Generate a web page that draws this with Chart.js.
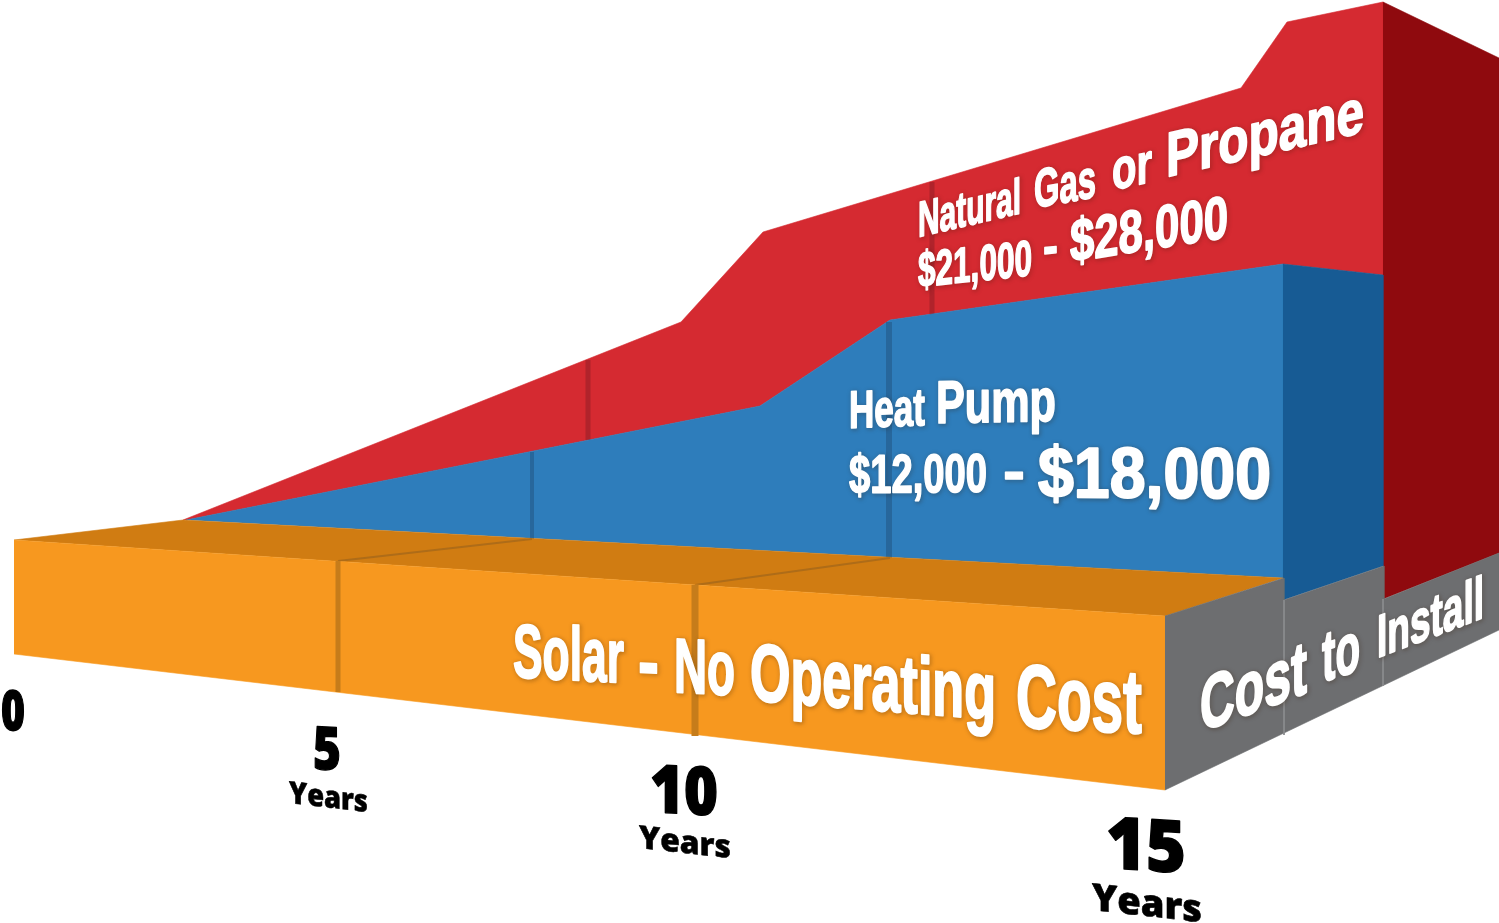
<!DOCTYPE html>
<html>
<head>
<meta charset="utf-8">
<style>html,body{margin:0;padding:0;background:#fff}canvas{display:block}</style>
<script src="https://cdn.jsdelivr.net/npm/chart.js@4"></script>
</head>
<body>
<canvas id="c" width="1499" height="923" style="width:1499px;height:923px"></canvas>
<script>
// Outlines (projected chart plane)
const gasFrontX   = [183, 681, 763, 1241, 1287, 1383, 1383, 1283, 890, 760, 186];
const gasFrontY   = [520, 322, 232, 88, 22, 2, 275, 264, 320, 406, 520];
const gasSideX    = [1383, 1499, 1499, 1383];
const gasSideY    = [2, 58, 553, 599];
const pumpFrontX  = [186, 760, 890, 1283, 1283];
const pumpFrontY  = [520, 406, 320, 264, 578];
const pumpSideX   = [1283, 1383, 1383, 1283];
const pumpSideY   = [264, 275, 566, 600];
const solarTopX   = [14, 183, 1283, 1165];
const solarTopY   = [540, 520, 578, 616];
const solarFrontX = [14, 1165, 1165, 14];
const solarFrontY = [540, 616, 790, 654];
const installX    = [1165, 1284, 1284, 1384, 1384, 1499, 1499, 1165];
const installY    = [616, 578, 600, 566, 599, 553, 630, 790];
// Year gridlines on each face
const gasGridX    = [[588, 588], [932, 932]];
const gasGridY    = [[360, 440], [182, 315]];
const pumpGridX   = [[532, 532], [889, 889]];
const pumpGridY   = [[452, 539], [322, 558]];
const solarGridX  = [[338, 338], [695, 695]];
const solarGridY  = [[561, 692], [585, 736]];
const topGridX    = [[338, 532], [695, 890]];
const topGridY    = [[561, 539], [585, 558]];
const installGridX = [[1284, 1284], [1383, 1383]];
const installGridY = [[600, 735], [599, 686]];
// Labels
const yearTicks = ['0', '5', '10', '15'];
const yearUnit = 'Years';
const gasName = 'Natural Gas or Propane';
const gasCost = '$21,000 - $28,000';
const pumpName = 'Heat Pump';
const pumpCost = '$12,000 - $18,000';
const solarName = 'Solar - No Operating Cost';
const installName = 'Cost to Install';

const pts = (xs, ys) => xs.map((x, i) => ({x, y: ys[i]}));
const paint = [];
const shape = (label, xs, ys, color) => paint.push({label, data: pts(xs, ys), backgroundColor: color, borderColor: color, borderWidth: 0.6, fill: 'shape', showLine: true, pointRadius: 0, tension: 0, clip: false});
const rule = (label, xs, ys, color, w) => xs.forEach((x, i) => paint.push({label, data: pts(x, ys[i]), borderColor: color, borderWidth: w[i], fill: false, showLine: true, pointRadius: 0, tension: 0, clip: false}));

shape(gasName, gasFrontX, gasFrontY, '#d52a31');
rule('Gas year lines', gasGridX, gasGridY, '#b0232b', [5, 5]);
shape('Natural Gas side', gasSideX, gasSideY, '#8f0a0e');
shape(pumpName, pumpFrontX, pumpFrontY, '#2e7dbb');
rule('Pump year lines', pumpGridX, pumpGridY, '#27679c', [4, 6]);
shape('Heat Pump side', pumpSideX, pumpSideY, '#175b94');
shape('Solar top', solarTopX, solarTopY, '#d07c12');
rule('Solar top lines', topGridX, topGridY, '#ae6c18', [2, 2]);
shape(solarName, solarFrontX, solarFrontY, '#f7981f');
rule('Solar year lines', solarGridX, solarGridY, '#c67c1a', [5, 7]);
shape(installName, installX, installY, '#6d6e70');
rule('Install lines', installGridX, installGridY, '#8a8b8d', [1, 1]);
paint.forEach((d, i) => { d.order = paint.length - i; });

function skewText(ctx, text, font, color, x, y, width, height, slope, shadow, heavy) {
  ctx.save();
  ctx.font = font.replace('SIZE', '100px');
  const w = ctx.measureText(text).width;
  const h = ctx.measureText('H').actualBoundingBoxAscent;
  const sx = width / w, sy = height / h;
  ctx.translate(x, y);
  ctx.transform(1, slope, 0, 1, 0, 0);
  ctx.scale(sx, sy);
  ctx.fillStyle = color;
  ctx.strokeStyle = color;
  ctx.lineJoin = 'round';
  ctx.lineWidth = heavy / Math.sqrt(sx * sy);
  ctx.textBaseline = 'alphabetic';
  ctx.textAlign = 'left';
  if (shadow) {
    ctx.shadowColor = 'rgba(50,25,0,0.55)';
    ctx.shadowBlur = 4;
    ctx.shadowOffsetX = 1;
    ctx.shadowOffsetY = 1;
  }
  if (heavy) ctx.strokeText(text, 0, 0);
  ctx.shadowColor = 'transparent';
  ctx.fillText(text, 0, 0);
  ctx.restore();
}

const white = 'bold SIZE "Liberation Sans Narrow", "Liberation Sans", sans-serif';
const black = '800 SIZE "Open Sans", "Noto Sans", sans-serif';

const labelPlugin = {
  id: 'faceLabels',
  afterDatasetsDraw(chart) {
    const c = chart.ctx;
    const t = (s, x, y, w, h, m, hv) => skewText(c, s, white, '#fff', x, y, w, h, m, true, hv);
    const g = gasName.split(' '), gc = gasCost.split(' '), p = pumpName.split(' '),
          pc = pumpCost.split(' '), so = solarName.split(' '), ins = installName.split(' ');
    t(g[0], 918, 237, 103, 35, -0.233, 1.3);
    t(g[1], 1034, 208, 62, 38, -0.18, 1.3);
    t(g[2], 1112, 190, 40, 40, -0.2, 1.3);
    t(g[3], 1166, 177, 198, 44, -0.227, 1.6);
    t(gc[0], 918, 287, 114, 35, -0.105, 1.3);
    t(gc[1], 1043, 265, 15, 38, -0.1, 1.3);
    t(gc[2], 1070, 262, 158, 42, -0.158, 1.5);
    t(p[0], 849, 428, 76, 37, -0.04, 1.3);
    t(p[1], 936, 423, 120, 42, -0.02, 1.5);
    t(pc[0], 849, 493, 138, 38, -0.01, 1.4);
    t(pc[1], 1003, 491, 22, 40, 0, 1.4);
    t(pc[2], 1038, 497, 233, 50, 0.005, 2);
    t(so[0], 513, 677, 111, 53, 0.05, 1.6);
    t(so[1], 638, 688, 21, 55, 0.05, 1.6);
    t(so[2], 674, 692, 61, 54, 0.05, 1.6);
    t(so[3], 750, 700, 246, 57, 0.08, 1.8);
    t(so[4], 1016, 727, 126, 63, 0.05, 1.8);
    t(ins[0], 1200, 732, 107, 53, -0.37, 1.8);
    t(ins[1], 1322, 682, 38, 50, -0.32, 1.6);
    t(ins[2], 1377, 658, 107, 42, -0.38, 1.5);
    const n = (s, x, y, w, h, m, hv) => skewText(c, s, black, '#000', x, y, w, h, m, false, hv);
    n(yearTicks[0], 1, 730, 24, 40, 0.02, 1.2);
    n(yearTicks[1], 313, 769, 28, 43, 0.04, 1.2);
    n(yearTicks[2], 650, 812, 68, 48, 0.05, 1.4);
    n(yearTicks[3], 1106, 868, 80, 52, 0.06, 1.4);
    n(yearUnit, 289, 803, 79, 22, 0.115, 0.5);
    n(yearUnit, 639, 848, 92, 23, 0.11, 0.5);
    n(yearUnit, 1092, 910, 110, 27, 0.11, 0.6);
  }
};

new Chart(document.getElementById('c'), {
  type: 'scatter',
  data: {datasets: paint},
  plugins: [labelPlugin],
  options: {
    responsive: false,
    animation: false,
    events: [],
    layout: {padding: 0},
    plugins: {legend: {display: false}, title: {display: false}, tooltip: {enabled: false}},
    scales: {
      x: {type: 'linear', min: 0, max: 1499, display: false},
      y: {type: 'linear', min: 0, max: 923, reverse: true, display: false}
    }
  }
});
</script>
</body>
</html>
